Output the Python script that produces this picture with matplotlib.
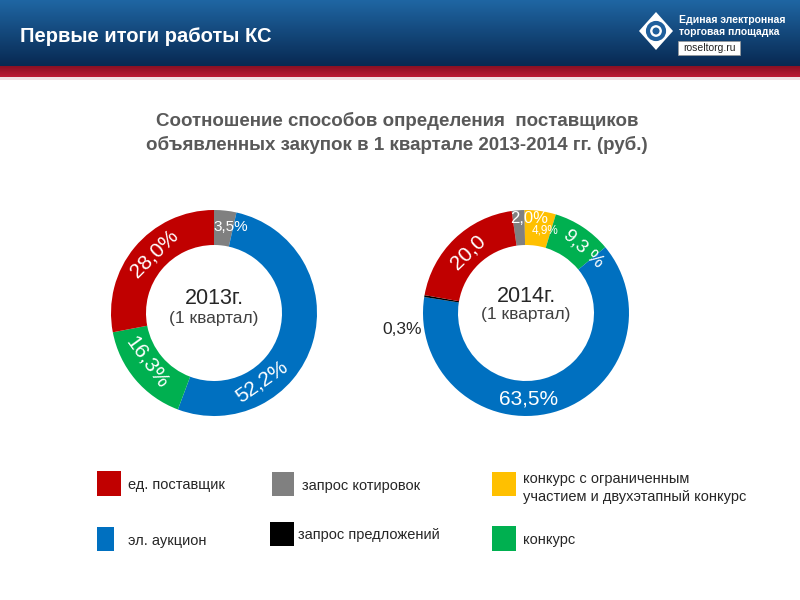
import matplotlib
matplotlib.use("Agg")
import matplotlib.pyplot as plt
import numpy as np
from matplotlib.patches import Polygon, Rectangle, Circle

plt.rcParams['font.family'] = ['Liberation Sans', 'DejaVu Sans']

# ---------------- data ----------------
categories = ["ед. поставщик", "запрос котировок",
              "конкурс с ограниченным\nучастием и двухэтапный конкурс",
              "эл. аукцион", "запрос предложений", "конкурс"]
cat_colors = ["#C00000", "#808080", "#FFC000", "#0070C0", "#000000", "#00B050"]

# 2013, clockwise from top
cats_2013 = ["запрос котировок", "эл. аукцион", "конкурс", "ед. поставщик"]
values_2013 = [3.5, 52.2, 16.3, 28.0]
labels_2013 = ["3,5%", "52,2%", "16,3%", "28,0%"]

# 2014, clockwise from top
cats_2014 = ["запрос котировок", categories[2], "конкурс", "эл. аукцион",
             "запрос предложений", "ед. поставщик"]
values_2014 = [2.0, 4.9, 9.3, 63.5, 0.3, 20.0]
labels_2014 = ["2,0%", "4,9%", "9,3 %", "63,5%", "0,3%", "20,0"]

title = "Первые итоги работы КС"
subtitle = "Соотношение способов определения  поставщиков\nобъявленных закупок в 1 квартале 2013-2014 гг. (руб.)"
centers_text = [("2013г.", "(1 квартал)"), ("2014г.", "(1 квартал)")]

color_of = dict(zip(categories, cat_colors))

W, H = 800, 600
fig = plt.figure(figsize=(8, 6), dpi=100)
bg = fig.add_axes([0, 0, 1, 1])
bg.set_xlim(0, W)
bg.set_ylim(H, 0)
bg.axis("off")

# ---------------- header ----------------
top = np.array([0x1f, 0x66, 0xa3]) / 255
bot = np.array([0x08, 0x29, 0x52]) / 255
t = np.linspace(0, 1, 100)[:, None, None]
grad = top * (1 - t) + bot * t
grad = np.repeat(grad, 2, axis=1)
bg.imshow(grad, extent=[0, W, 66, 0], aspect="auto", zorder=0)
rtop = np.array([0x8a, 0x10, 0x24]) / 255
rbot = np.array([0xbb, 0x1c, 0x35]) / 255
t2 = np.linspace(0, 1, 20)[:, None, None]
rgrad = np.repeat(rtop * (1 - t2) + rbot * t2, 2, axis=1)
bg.imshow(rgrad, extent=[0, W, 77, 66], aspect="auto", zorder=0)
bg.add_patch(Rectangle((0, 77), W, 3, color="#f0e4e6", lw=0, zorder=0))
bg.set_xlim(0, W)
bg.set_ylim(H, 0)

bg.text(20, 37, title, color="white", fontsize=14.5, fontweight="bold",
        ha="left", va="center")

# logo
bg.add_patch(Polygon([[656, 12], [673, 31], [656, 50], [639, 31]],
                     closed=True, fc="white", ec="none"))
bg.add_patch(Circle((656, 31), 8, fc="none", ec="#1f5f9c", lw=3))
bg.add_patch(Circle((656, 31), 3.5, fc="#1f5f9c", ec="none"))
bg.text(679, 20, "Единая электронная", color="white", fontsize=7.5,
        fontweight="bold", va="center", ha="left")
bg.text(679, 32, "торговая площадка", color="white", fontsize=7.5,
        fontweight="bold", va="center", ha="left")
bg.add_patch(Rectangle((678, 41), 62, 14, fc="white", ec="#999999", lw=0.5))
bg.text(709, 48, "roseltorg.ru", color="#222222", fontsize=7.5,
        va="center", ha="center")

# subtitle
bg.text(397, 133, subtitle, color="#595959", fontsize=13.5, fontweight="bold",
        ha="center", va="center", linespacing=1.42)

# ---------------- donuts ----------------
R, RW = 103, 35
L = 135


def donut(cx, cy, values, cats, startangle):
    ax = fig.add_axes([(cx - L) / W, (H - cy - L) / H, 2 * L / W, 2 * L / H])
    ax.pie(values, colors=[color_of[c] for c in cats],
           startangle=startangle, counterclock=False, radius=R,
           wedgeprops=dict(width=RW, edgecolor="none", linewidth=0))
    ax.set_xlim(-L, L)
    ax.set_ylim(-L, L)
    ax.set_aspect("equal")
    ax.axis("off")
    return ax


def put(ax, txt, ang_cw, r, tangent, size, color="white"):
    a = np.deg2rad(ang_cw)
    x, y = r * np.sin(a), r * np.cos(a)
    rot = 0
    if tangent:
        rot = -ang_cw
        while rot <= -90:
            rot += 180
        while rot > 90:
            rot -= 180
    ax.text(x, y, txt, rotation=rot, rotation_mode="anchor", ha="center",
            va="center", fontsize=size, color=color, clip_on=False)


ax1 = donut(214, 313, values_2013, cats_2013, 90)
spec_2013 = [(11, 88, False, 11), (145, 84, True, 15),
             (234, 83, True, 15), (315, 84, True, 15)]
for lab, (a, r, tg, s) in zip(labels_2013, spec_2013):
    put(ax1, lab, a, r, tg, s)
ax1.text(0, 14, centers_text[0][0], ha="center", va="center", fontsize=15.5,
         color="#262626")
ax1.text(0, -5, centers_text[0][1], ha="center", va="center", fontsize=12.5,
         color="#404040")

ax2 = donut(526, 313, values_2014, cats_2014, 98)
spec_2014 = [(2, 95, False, 12, "white"), (13, 85, False, 8.5, "white"),
             (42, 86, True, 13.5, "white"), (178, 86, False, 15, "white"),
             None, (316, 84, True, 15, "white")]
for lab, sp in zip(labels_2014, spec_2014):
    if sp is None:
        continue
    a, r, tg, s, c = sp
    put(ax2, lab, a, r, tg, s, c)
ax2.text(-124, -17, labels_2014[4], ha="center", va="center", fontsize=12.5,
         color="#262626", clip_on=False)
ax2.text(0, 16, centers_text[1][0], ha="center", va="center", fontsize=15.5,
         color="#262626")
ax2.text(0, -1, centers_text[1][1], ha="center", va="center", fontsize=12.5,
         color="#404040")

# ---------------- legend ----------------
legend_boxes = [(97, 471, 24, 25), (272, 472, 22, 24), (492, 472, 24, 24),
                (97, 527, 17, 24), (270, 522, 24, 24), (492, 526, 24, 25)]
legend_text = [(128, 485), (302, 486), (523, 488), (128, 541), (298, 535), (523, 540)]
for cat, col, (x, y, w, h), (tx, ty) in zip(categories, cat_colors, legend_boxes, legend_text):
    bg.add_patch(Rectangle((x, y), w, h, fc=col, ec="none"))
    bg.text(tx, ty, cat, ha="left", va="center", fontsize=10.5, color="#262626",
            linespacing=1.35)

fig.savefig("out.png", dpi=100)
